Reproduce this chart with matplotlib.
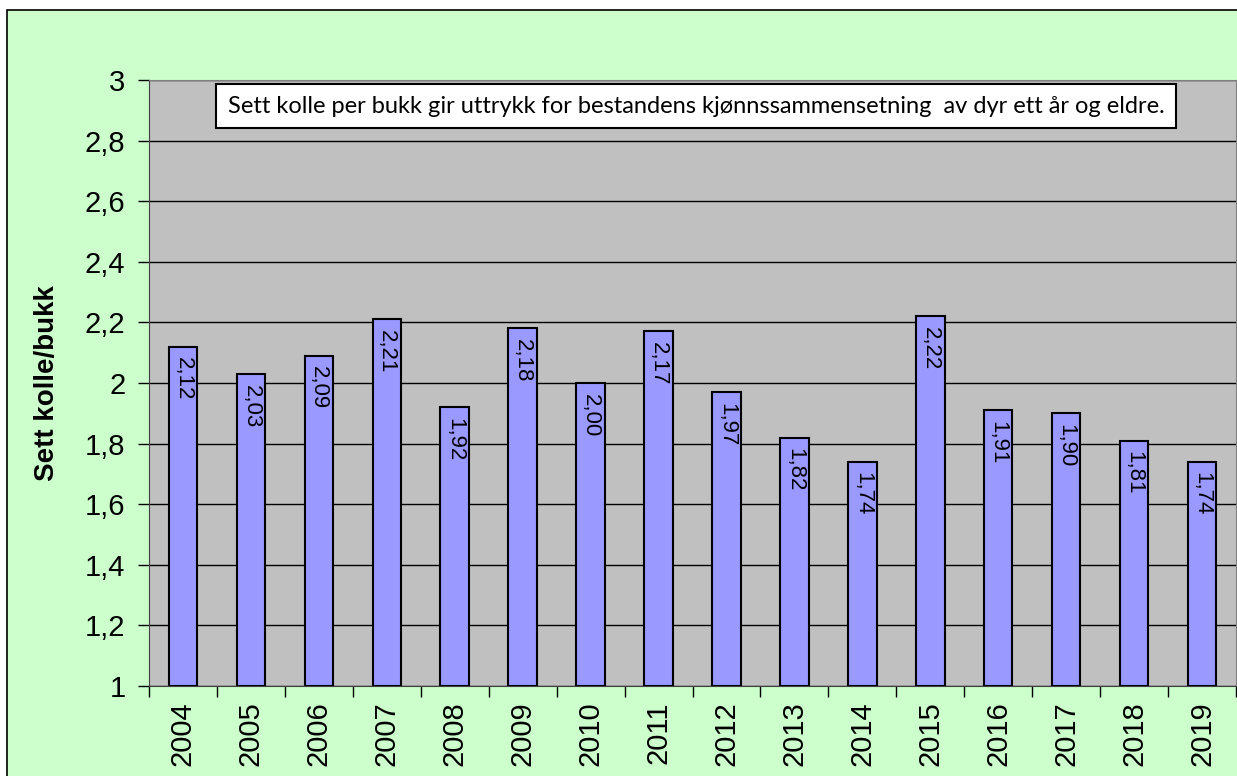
import matplotlib
matplotlib.use("Agg")
import matplotlib.pyplot as plt
import numpy as np
from matplotlib.patches import Rectangle
from matplotlib.ticker import FuncFormatter, MultipleLocator

# Data
years = ["2004", "2005", "2006", "2007", "2008", "2009", "2010", "2011",
         "2012", "2013", "2014", "2015", "2016", "2017", "2018", "2019"]
kolle_per_bukk = [2.12, 2.03, 2.09, 2.21, 1.92, 2.18, 2.00, 2.17,
                  1.97, 1.82, 1.74, 2.22, 1.91, 1.90, 1.81, 1.74]

ylabel = "Sett kolle/bukk"
note = "Sett kolle per bukk gir uttrykk for bestandens kjønnssammensetning  av dyr ett år og eldre."

plt.rcParams['font.family'] = ['Liberation Sans', 'DejaVu Sans']

fig = plt.figure(figsize=(12.37, 7.76), dpi=100)
fig.patch.set_facecolor("white")

# green chart area with black border (cut off at right and bottom)
bg = Rectangle((7/1237, -0.1), 1.2, 0.987 + 0.1, transform=fig.transFigure,
               facecolor="#CCFFCC", edgecolor="black", linewidth=1.2, zorder=-10)
fig.patches.append(bg)

ax = fig.add_axes([149/1237, 90/776, (1236 - 149)/1237, (686 - 80)/776])
ax.set_facecolor("#C0C0C0")

x = np.arange(len(years))
bars = ax.bar(x, [v - 1 for v in kolle_per_bukk], bottom=1, width=0.42,
              color="#9999FF", edgecolor="black", linewidth=1.5, zorder=3)

# value labels, rotated inside bar top
for xi, v in zip(x, kolle_per_bukk):
    ax.text(xi, v - 0.035, f"{v:.2f}".replace(".", ","), rotation=-90,
            ha="center", va="top", fontsize=16, zorder=4)

ax.set_xlim(-0.5, len(years) - 0.5)
ax.set_ylim(1, 3)
ax.yaxis.set_major_locator(MultipleLocator(0.2))
ax.yaxis.set_major_formatter(FuncFormatter(lambda v, p: f"{round(v, 1):g}".replace(".", ",")))
ax.grid(axis="y", color="black", linewidth=1, zorder=1)
ax.set_axisbelow(True)

ax.set_xticks(x)
ax.set_xticklabels(years, rotation=90, fontsize=21)
ax.set_xticks(np.arange(-0.5, len(years)), minor=True)
ax.tick_params(axis="x", which="major", length=0, pad=11)
ax.tick_params(axis="x", which="minor", length=8, width=1, direction="out")
ax.tick_params(axis="y", length=8, width=1, labelsize=21, pad=9)

for side in ["top", "right"]:
    ax.spines[side].set_color("#808080")
ax.spines["left"].set_color("#404040")
ax.spines["bottom"].set_color("#404040")

ax.set_ylabel(ylabel, fontsize=20, fontweight="bold", labelpad=18)

# note box
ax.text(0.0725, 0.957, note, transform=ax.transAxes, ha="left", va="center",
        fontsize=17, family=["Lato", "DejaVu Sans"],
        bbox=dict(boxstyle="square,pad=0.5", facecolor="white", edgecolor="black", linewidth=1.5),
        zorder=5)

fig.savefig("out.png", dpi=100)
